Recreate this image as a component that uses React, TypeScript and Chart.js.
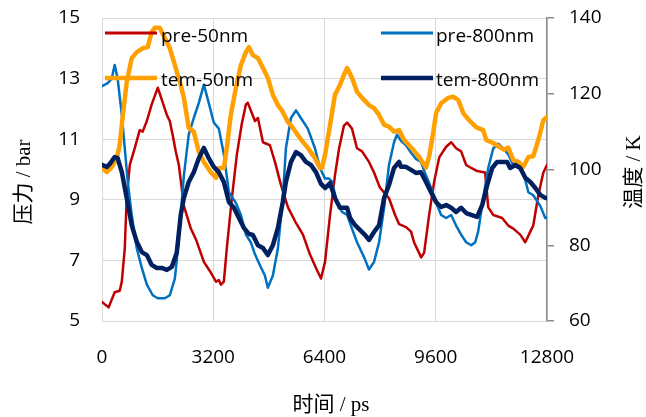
import React, { useEffect, useRef } from "react";
import { Chart, registerables } from "chart.js";

Chart.register(...registerables);

// ---- data ----
const xTicks = [0, 3200, 6400, 9600, 12800];
const pressureTicks = [5, 7, 9, 11, 13, 15];
const tempTicks = [60, 80, 100, 120, 140];

const pre50Time = [0,190,365,510,570,655,710,800,940,1085,1170,1290,1430,1605,1750,1865,1950,2040,2120,2210,2355,2555,2700,2840,2930,3130,3280,3360,3420,3505,3590,3735,3880,4020,4140,4195,4400,4485,4630,4830,4975,5145,5350,5550,5780,5980,6155,6300,6415,6560,6700,6820,6960,7050,7190,7335,7480,7680,7825,7995,8255,8430,8545,8745,8890,8975,9180,9265,9410,9555,9700,9900,10045,10185,10330,10475,10620,10790,11020,11110,11255,11510,11685,11830,12030,12175,12320,12405,12550,12695,12800];
const pre50Bar = [5.63,5.45,5.95,6.0,6.3,7.4,9.05,10.15,10.7,11.3,11.25,11.6,12.15,12.7,12.2,11.8,11.6,11.1,10.6,10.15,8.8,8.05,7.7,7.25,6.95,6.6,6.3,6.35,6.2,6.3,7.4,9.05,10.5,11.5,12.15,12.2,11.6,11.7,10.9,10.8,10.25,9.5,8.75,8.3,7.85,7.2,6.75,6.4,6.95,8.5,9.8,10.7,11.45,11.55,11.35,10.7,10.6,10.25,9.9,9.4,9.05,8.5,8.2,8.1,7.95,7.6,7.1,7.25,8.5,9.6,10.4,10.75,10.9,10.7,10.6,10.15,10.05,9.95,9.9,8.75,8.5,8.4,8.15,8.05,7.85,7.6,7.95,8.15,9.15,9.9,10.15];

const pre800Time = [0,165,280,365,450,570,655,740,855,1000,1145,1290,1460,1605,1805,1950,2095,2150,2265,2355,2495,2640,2785,2930,3070,3215,3360,3505,3650,3850,3995,4140,4280,4400,4540,4685,4770,4915,5060,5200,5290,5435,5580,5720,5920,6125,6270,6415,6530,6615,6760,6905,7050,7190,7335,7540,7680,7825,7970,8115,8255,8400,8485,8600,8745,8890,9030,9175,9320,9465,9610,9755,9900,10045,10185,10330,10475,10620,10735,10820,10965,11110,11255,11395,11540,11685,11830,11975,12120,12265,12405,12605,12750,12800];
const pre800Bar = [12.75,12.85,13.0,13.45,13.0,11.8,10.7,9.6,8.5,7.4,6.75,6.2,5.85,5.75,5.75,5.85,6.4,7.0,8.5,9.8,11.15,11.7,12.2,12.8,12.2,11.55,11.35,10.5,9.25,8.9,8.5,7.85,7.6,7.2,6.85,6.5,6.1,6.5,7.4,9.05,10.7,11.7,11.95,11.7,11.35,10.7,10.05,9.7,9.7,9.6,8.9,8.6,8.5,8.05,7.6,7.1,6.7,6.95,7.6,8.75,10.15,10.9,11.15,10.95,10.8,10.55,10.35,10.25,9.8,9.4,8.9,8.5,8.4,8.5,8.15,7.85,7.6,7.5,7.6,7.95,9.05,10.05,10.7,10.85,10.7,10.5,10.15,10.25,9.9,9.25,9.15,8.8,8.4,8.4];

const tem50Time = [0,140,280,425,510,600,710,855,1000,1170,1315,1430,1520,1660,1805,1950,2095,2265,2355,2495,2640,2785,2930,3130,3280,3360,3505,3590,3705,3850,3995,4140,4225,4340,4485,4630,4770,4915,5060,5200,5350,5490,5635,5780,5920,6125,6270,6325,6415,6560,6700,6845,6960,7050,7190,7335,7480,7680,7825,7970,8115,8255,8400,8545,8690,8950,9120,9320,9410,9525,9610,9755,9955,10100,10245,10390,10560,10760,10965,11050,11250,11425,11570,11685,11830,11975,12120,12265,12405,12550,12695,12800];
const tem50K = [100.4,99.3,100.6,103,106.5,114.4,123,129.4,131,132,132.3,136.3,137.4,137.4,134.7,132,127.6,122.3,118.9,111,110,104.6,102,99.3,97.8,100.4,100.4,105.7,114.4,121.5,127.6,131,132.3,130.2,129.4,126.8,124.2,119.7,117,115.2,112.5,111,109,107.3,105.7,103,100.4,100.4,103.8,111.8,119.7,122.3,125,126.8,124.2,120.5,118.9,117,116.2,114.4,111.8,111.3,110,110.4,107.8,105.2,103.3,100.5,103.5,109.6,114.9,117.5,118.9,119.2,118.4,114.9,113,111.2,110.4,107.8,107,106,105.2,105.8,102.5,102,100.7,103.3,103.5,107.8,113,113.9];

const tem800Time = [0,140,225,365,450,570,710,855,1000,1145,1290,1430,1575,1720,1865,2010,2150,2265,2355,2495,2640,2785,2930,3070,3215,3360,3505,3650,3795,3940,4080,4225,4340,4485,4630,4770,4915,5060,5200,5290,5435,5580,5720,5865,6010,6155,6300,6415,6560,6700,6845,7050,7135,7280,7425,7570,7680,7825,7970,8115,8255,8400,8545,8600,8745,8890,9030,9175,9320,9465,9610,9755,9900,10045,10185,10330,10475,10620,10790,10935,11080,11225,11365,11510,11655,11740,11885,12030,12175,12320,12465,12605,12750,12800];
const tem800K = [101.2,100.7,101.5,103.3,103,99.3,92.5,85.3,80.9,78.2,77.4,74.8,74,74,73.5,74.3,78,88,92.5,96.7,99.3,103,105.7,103,100.7,99.3,96.7,91.4,89.9,87.2,84.6,83,82.7,80,79.3,77.4,80,84.6,91.4,96.7,102,104.6,103.8,102,101.2,99.3,96.2,95.1,96.4,92.5,89.9,89.9,87.2,85.3,84,82.7,81.4,83.5,85.3,92.5,95.9,100.4,102,100.7,100.7,99.9,99.1,99.3,96.7,94,91.4,90.1,90.6,89.9,88.8,89.9,88.5,88,87.5,90.6,95.9,100.4,102,102,102,100.4,101.2,100.4,97.8,96.7,95.1,93.3,92.5,92.5];

const seriesNames = ["pre-50nm", "pre-800nm", "tem-50nm", "tem-800nm"];
const seriesColors = ["#C00000", "#0070C0", "#FFA000", "#002060"];

const xTitle = "时间 / ps";
const yTitle = "压力 / bar";
const y1Title = "温度 / K";

const zip = (xs: number[], ys: number[]) => {
  const n = Math.min(xs.length, ys.length);
  const out: { x: number; y: number }[] = [];
  for (let i = 0; i < n; i++) out.push({ x: xs[i], y: ys[i] });
  return out;
};

const TICK_FONT = { family: "'Open Sans', sans-serif", size: 19 };
const TICK_COLOR = "#000000";
const TITLE_FONT = "21px 'Liberation Serif', 'Noto Sans CJK SC', serif";

const overlayPlugin = {
  id: "overlay",
  afterDatasetsDraw(chart: any) {
    const ctx = chart.ctx;
    ctx.save();
    const items = [
      { i: 0, lx: 105, ly: 33, tx: 161, ty: 42, w: 3 },
      { i: 1, lx: 381, ly: 33, tx: 436, ty: 42, w: 3 },
      { i: 2, lx: 105, ly: 78, tx: 161, ty: 86, w: 4.5 },
      { i: 3, lx: 381, ly: 78, tx: 436, ty: 86, w: 4.5 },
    ];
    items.forEach((it) => {
      ctx.strokeStyle = seriesColors[it.i];
      ctx.lineWidth = it.w;
      ctx.lineCap = "butt";
      ctx.beginPath();
      ctx.moveTo(it.lx, it.ly);
      ctx.lineTo(it.lx + 52, it.ly);
      ctx.stroke();
      ctx.fillStyle = TICK_COLOR;
      ctx.font = "19px 'Open Sans', sans-serif";
      ctx.textAlign = "left";
      ctx.textBaseline = "alphabetic";
      ctx.fillText(seriesNames[it.i], it.tx, it.ty);
    });
    ctx.restore();
  },
  afterDraw(chart: any) {
    const ctx = chart.ctx;
    ctx.save();
    ctx.fillStyle = TICK_COLOR;
    ctx.font = TITLE_FONT;
    ctx.textAlign = "center";
    ctx.textBaseline = "middle";
    ctx.fillText(xTitle, 331, 405);
    ctx.save();
    ctx.translate(24, 182);
    ctx.rotate(-Math.PI / 2);
    ctx.fillText(yTitle, 0, 0);
    ctx.restore();
    ctx.save();
    ctx.translate(634, 172);
    ctx.rotate(-Math.PI / 2);
    ctx.fillText(y1Title, 0, 0);
    ctx.restore();
    ctx.restore();
  },
};

export default function App() {
  const ref = useRef<HTMLCanvasElement | null>(null);
  useEffect(() => {
    if (!ref.current) return;
    const common = {
      pointRadius: 0,
      pointHoverRadius: 0,
      fill: false,
      tension: 0,
      borderJoinStyle: "round" as const,
      borderCapStyle: "round" as const,
    };
    const fitV = (w: number) => (s: any) => {
      s.width = w;
      s.paddingTop = 0;
      s.paddingBottom = 0;
    };
    const chart = new Chart(ref.current, {
      type: "line",
      data: {
        datasets: [
          { ...common, label: seriesNames[3], data: zip(tem800Time, tem800K), yAxisID: "y1", borderColor: seriesColors[3], borderWidth: 4.5, order: 0 },
          { ...common, label: seriesNames[2], data: zip(tem50Time, tem50K), yAxisID: "y1", borderColor: seriesColors[2], borderWidth: 4.5, order: 1 },
          { ...common, label: seriesNames[1], data: zip(pre800Time, pre800Bar), yAxisID: "y", borderColor: seriesColors[1], borderWidth: 2.5, order: 2 },
          { ...common, label: seriesNames[0], data: zip(pre50Time, pre50Bar), yAxisID: "y", borderColor: seriesColors[0], borderWidth: 2.5, order: 3 },
        ],
      },
      options: {
        responsive: false,
        animation: false,
        devicePixelRatio: 1,
        layout: { padding: { top: 18, left: 0, right: 0, bottom: 0 } },
        plugins: { legend: { display: false }, tooltip: { enabled: false } },
        scales: {
          x: {
            type: "linear",
            min: xTicks[0],
            max: xTicks[xTicks.length - 1],
            afterBuildTicks: (s: any) => { s.ticks = xTicks.map((v) => ({ value: v })); },
            ticks: { color: TICK_COLOR, font: TICK_FONT, padding: 25, maxRotation: 0, callback: (v: any) => String(v) },
            grid: { color: "#d9d9d9", lineWidth: 1, drawTicks: false },
            border: { color: "#d9d9d9", width: 1 },
            afterFit: (s: any) => { s.height = 96; s.paddingLeft = 0; s.paddingRight = 0; },
          },
          y: {
            type: "linear",
            position: "left",
            min: pressureTicks[0],
            max: pressureTicks[pressureTicks.length - 1],
            afterBuildTicks: (s: any) => { s.ticks = pressureTicks.map((v) => ({ value: v })); },
            ticks: { color: TICK_COLOR, font: TICK_FONT, padding: 22, callback: (v: any) => String(v) },
            grid: { color: "#d9d9d9", lineWidth: 1, drawTicks: false },
            border: { color: "#d9d9d9", width: 1 },
            afterFit: fitV(102),
          },
          y1: {
            type: "linear",
            position: "right",
            min: tempTicks[0],
            max: tempTicks[tempTicks.length - 1],
            afterBuildTicks: (s: any) => { s.ticks = tempTicks.map((v) => ({ value: v })); },
            ticks: { color: TICK_COLOR, font: TICK_FONT, padding: 15, callback: (v: any) => String(v) },
            grid: { drawOnChartArea: false, drawTicks: true, tickLength: 7, color: "#8c8c8c", lineWidth: 1.5 },
            border: { color: "#8c8c8c", width: 1.5 },
            afterFit: fitV(99),
          },
        },
      },
      plugins: [overlayPlugin],
    } as any);
    return () => chart.destroy();
  }, []);
  return (
    <div style={{ position: "absolute", left: 0, top: 0, width: 646, height: 417, background: "#fff" }}>
      <canvas ref={ref} width={646} height={417} style={{ display: "block", width: 646, height: 417 }} />
    </div>
  );
}
